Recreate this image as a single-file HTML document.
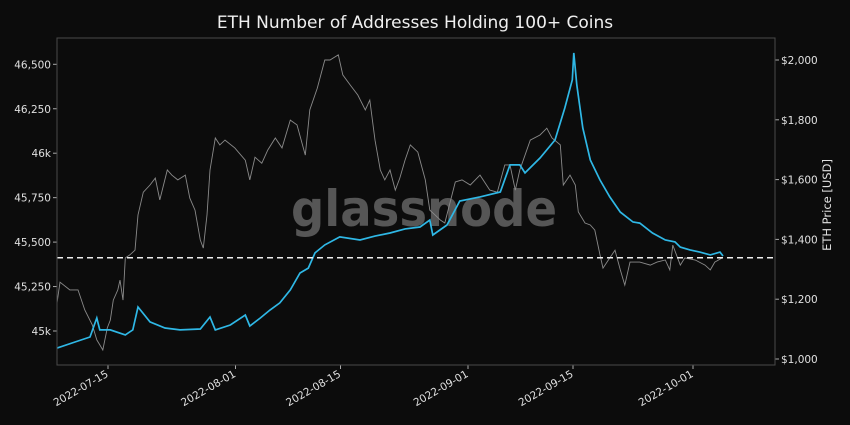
<!DOCTYPE html>
<html><head><meta charset="utf-8"><style>
html,body{margin:0;padding:0;background:#0c0c0c;}
svg{display:block;font-family:"DejaVu Sans","Liberation Sans",sans-serif;}
</style></head><body>
<svg id="chart" width="850" height="425" xmlns="http://www.w3.org/2000/svg">
<rect x="0" y="0" width="850" height="425" fill="#0c0c0c"/>
<text x="415" y="28" fill="#f0f0f0" font-size="17" text-anchor="middle">ETH Number of Addresses Holding 100+ Coins</text>
<text x="291" y="226" fill="#565656" font-size="50" font-weight="bold" textLength="266" lengthAdjust="spacingAndGlyphs">glassnode</text>
<g id="axes"></g>
<g id="series"></g>
<rect x="57" y="38" width="718" height="327" fill="none" stroke="#4a4a4a" stroke-width="1"/>
<text transform="translate(831,205) rotate(-90)" fill="#e0e0e0" font-size="11.5" text-anchor="middle">ETH Price [USD]</text>
</svg>
<script>
const addrDays=[0.2,2.6,4.6,5.5,5.9,7.3,9.3,10.3,11.0,12.6,14.6,16.6,19.3,20.6,21.3,23.3,25.3,25.9,27.3,28.6,29.9,31.3,32.6,33.7,34.6,35.9,37.9,40.6,42.6,44.6,46.6,48.6,49.9,50.3,52.2,53.9,56.6,59.3,60.6,61.9,62.6,64.6,66.6,67.9,68.9,69.1,69.5,70.3,71.3,72.6,73.9,75.3,77.0,77.9,79.6,81.3,82.6,83.3,84.6,85.9,87.3,88.6,89.0];
const addrValues=[44904,44938,44966,45073,45006,45006,44978,45006,45135,45051,45017,45006,45011,45079,45006,45034,45090,45028,45073,45118,45158,45231,45326,45354,45439,45484,45529,45512,45534,45551,45574,45585,45624,45540,45596,45731,45754,45782,45934,45934,45889,45973,46074,46254,46412,46564,46384,46142,45962,45849,45754,45669,45613,45607,45551,45512,45501,45472,45456,45444,45428,45444,45422];
const priceDays=[0.2,0.6,1.9,3.0,3.9,4.9,5.5,5.9,6.3,6.9,7.3,7.7,8.3,8.6,9.0,9.3,9.9,10.6,11.0,11.7,12.6,13.3,13.9,14.9,15.5,16.3,17.3,17.9,18.6,19.3,19.7,20.2,20.6,21.3,21.9,22.6,23.9,25.3,25.9,26.6,27.5,28.3,29.3,30.2,31.3,32.2,33.3,33.9,34.9,35.9,36.6,37.7,38.3,39.3,40.3,41.3,41.9,42.6,43.3,43.9,44.6,45.3,45.9,46.6,47.3,48.3,49.3,49.9,50.6,51.3,51.9,53.3,54.2,55.3,56.6,57.9,58.9,59.9,60.6,61.3,61.9,63.3,64.6,65.5,66.2,67.3,67.7,68.6,69.3,69.7,70.6,71.3,71.9,72.6,73.0,73.9,74.6,75.3,75.9,76.6,77.9,79.3,80.2,81.3,81.9,82.3,83.3,83.9,85.3,86.6,87.3,87.9,88.9];
const priceValues=[1187,1257,1231,1231,1164,1114,1064,1047,1030,1104,1130,1197,1231,1264,1197,1338,1348,1364,1482,1558,1582,1605,1532,1632,1615,1599,1615,1538,1498,1398,1371,1482,1632,1739,1716,1732,1706,1665,1599,1675,1655,1699,1739,1706,1799,1783,1682,1833,1906,2000,2000,2017,1950,1916,1883,1833,1866,1732,1632,1599,1632,1565,1605,1665,1716,1692,1599,1498,1482,1465,1455,1592,1599,1582,1615,1565,1558,1649,1649,1565,1632,1732,1749,1772,1739,1716,1582,1615,1582,1492,1455,1448,1431,1348,1304,1338,1364,1298,1247,1324,1324,1314,1324,1331,1298,1381,1314,1338,1331,1314,1298,1324,1338];
const leftTicks=[45000,45250,45500,45750,46000,46250,46500];
const leftTickLabels=["45k","45,250","45,500","45,750","46k","46,250","46,500"];
const rightTicks=[1000,1200,1400,1600,1800,2000];
const rightTickLabels=["$1,000","$1,200","$1,400","$1,600","$1,800","$2,000"];
const xTicks=[7,24,38,55,69,85];
const xTickLabels=["2022-07-15","2022-08-01","2022-08-15","2022-09-01","2022-09-15","2022-10-01"];
const thresholdValue=45412;

const NS="http://www.w3.org/2000/svg";
function xS(d){return 55.5+7.5*d;}
function yL(v){return 331-(v-45000)*266.7/1500;}
function yR(v){return 359-(v-1000)*299/1000;}
const axes=document.getElementById('axes');
const series=document.getElementById('series');
function mk(tag,attrs,parent){const e=document.createElementNS(NS,tag);for(const k in attrs)e.setAttribute(k,attrs[k]);parent.appendChild(e);return e;}

leftTicks.forEach((v,i)=>{
  const y=yL(v);
  const t=mk('line',{x1:53,x2:57,y1:y,y2:y,stroke:'#aaa'},axes);
  
  
  const l=mk('text',{x:51,y:y+4,fill:'#e0e0e0','font-size':10.5,'text-anchor':'end'},axes);
  l.textContent=leftTickLabels[i];
  
  
});
rightTicks.forEach((v,i)=>{
  const y=yR(v);
  const t=mk('line',{x1:775,x2:779,y1:y,y2:y,stroke:'#aaa'},axes);
  
  
  const l=mk('text',{x:781,y:y+4,fill:'#e0e0e0','font-size':10.5,'text-anchor':'start'},axes);
  l.textContent=rightTickLabels[i];
  
  
});
xTicks.forEach((d,i)=>{
  const x=xS(d);
  const t=mk('line',{x1:x,x2:x,y1:365,y2:369,stroke:'#aaa'},axes);
  
  
  const l=mk('text',{transform:'translate('+(x+1)+',376) rotate(-30)',fill:'#e0e0e0','font-size':10.5,'text-anchor':'end'},axes);
  l.textContent=xTickLabels[i];
  
  
});

function pathD(days,vals,yf){return days.map((d,i)=>(i?'L':'M')+xS(d).toFixed(1)+','+yf(vals[i]).toFixed(1)).join('');}
const pl=mk('path',{d:pathD(priceDays,priceValues,yR),fill:'none',stroke:'#8a8a8a','stroke-width':0.9},series);


const al=mk('path',{d:pathD(addrDays,addrValues,yL),fill:'none',stroke:'#2fb8e6','stroke-width':1.7},series);


const th=mk('line',{x1:57,x2:775,y1:yL(thresholdValue),y2:yL(thresholdValue),stroke:'#f0f0f0','stroke-width':1.5,'stroke-dasharray':'6,4'},series);


</script>
</body></html>
